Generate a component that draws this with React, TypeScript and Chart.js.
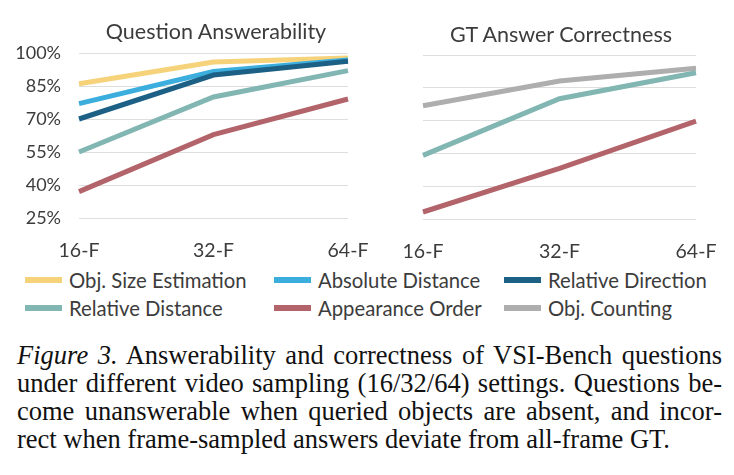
import React, { useEffect, useRef } from "react";
import { Chart, registerables } from "chart.js";

Chart.register(...registerables);

// ---------- data ----------
const categories = ["16-F", "32-F", "64-F"];
const yMin = 25;
const yMax = 100;
const yStep = 15;

// Question Answerability (%)
const answerObjSize = [86, 95.9, 97.7];
const answerAbsDist = [77, 91.6, 96.8];
const answerRelDir = [70, 90, 96.2];
const answerRelDist = [55, 80, 92];
const answerApprOrder = [37, 62.9, 79.1];

// GT Answer Correctness (%)
const correctObjCount = [76.8, 88.1, 93.9];
const correctRelDist = [54.1, 80, 91.9];
const correctApprOrder = [28.2, 48.2, 69.8];

const titleLeft = "Question Answerability";
const titleRight = "GT Answer Correctness";

const legendRow1 = ["Obj. Size Estimation", "Absolute Distance", "Relative Direction"];
const legendRow2 = ["Relative Distance", "Appearance Order", "Obj. Counting"];

const COLORS: Record<string, string> = {
  "Obj. Size Estimation": "#F6D37B",
  "Absolute Distance": "#3BAEDE",
  "Relative Direction": "#1C6086",
  "Relative Distance": "#82B6B2",
  "Appearance Order": "#B3646A",
  "Obj. Counting": "#AEAEAE",
};

const captionLines = [
  "Answerability and correctness of VSI-Bench questions",
  "under different video sampling (16/32/64) settings. Questions be-",
  "come unanswerable when queried objects are absent, and incor-",
  "rect when frame-sampled answers deviate from all-frame GT.",
];

const SANS = "Lato, 'Open Sans', sans-serif";
const TEXT = "#3c3c3c";

function mk(label: string, data: number[], order: number) {
  return {
    label,
    data,
    borderColor: COLORS[label],
    backgroundColor: COLORS[label],
    borderWidth: 5,
    pointRadius: 0,
    pointHoverRadius: 0,
    tension: 0,
    fill: false,
    order,
  };
}

type Geo = {
  width: number;
  height: number;
  left: number;
  top: number;
  right: number;
  bottom: number;
  showY: boolean;
};

function LineChart({ datasets, geo }: { datasets: any[]; geo: Geo }) {
  const ref = useRef<HTMLCanvasElement | null>(null);
  useEffect(() => {
    if (!ref.current) return;
    const chart = new Chart(ref.current, {
      type: "line",
      data: { labels: categories, datasets },
      options: {
        responsive: false,
        animation: false,
        devicePixelRatio: 1,
        layout: {
          padding: { left: 0, top: geo.top, right: geo.width - geo.right, bottom: 0 },
        },
        plugins: {
          legend: { display: false },
          tooltip: { enabled: false },
          title: { display: false },
        },
        scales: {
          x: {
            type: "category",
            offset: false,
            grid: { display: false, drawTicks: false },
            border: { display: false },
            ticks: {
              color: TEXT,
              font: { family: SANS, size: 19.5 },
              padding: 21,
              maxRotation: 0,
              autoSkip: false,
            },
            afterFit: (s: any) => {
              s.height = geo.height - geo.bottom;
              s.paddingLeft = 0;
              s.paddingRight = 0;
            },
          },
          y: {
            type: "linear",
            min: yMin,
            max: yMax,
            grid: { color: "#dedede", lineWidth: 1, drawTicks: false },
            border: { display: false },
            ticks: {
              display: geo.showY,
              stepSize: yStep,
              color: TEXT,
              font: { family: SANS, size: 18 },
              padding: 18,
              callback: (v: any) => v + "%",
            },
            afterFit: (s: any) => {
              s.width = geo.left;
              s.paddingTop = 0;
              s.paddingBottom = 0;
            },
          },
        },
      },
    } as any);
    return () => chart.destroy();
  }, []);
  return (
    <canvas
      ref={ref}
      width={geo.width}
      height={geo.height}
      style={{ width: geo.width, height: geo.height, display: "block" }}
    />
  );
}

export default function App() {
  const leftSets = [
    mk("Relative Direction", answerRelDir, 0),
    mk("Absolute Distance", answerAbsDist, 1),
    mk("Obj. Size Estimation", answerObjSize, 2),
    mk("Relative Distance", answerRelDist, 3),
    mk("Appearance Order", answerApprOrder, 4),
  ];
  const rightSets = [
    mk("Relative Distance", correctRelDist, 0),
    mk("Obj. Counting", correctObjCount, 1),
    mk("Appearance Order", correctApprOrder, 2),
  ];

  const legendCols = [25, 274, 504];
  const legendRows = [279.5, 307.5];

  return (
    <div
      style={{
        position: "absolute",
        left: 0,
        top: 0,
        width: 734,
        height: 475,
        background: "#ffffff",
        overflow: "hidden",
      }}
    >
      <div style={{ position: "absolute", left: 0, top: 0 }}>
        <LineChart
          datasets={leftSets}
          geo={{ width: 380, height: 265, left: 79, top: 53, right: 348, bottom: 218, showY: true }}
        />
      </div>
      <div style={{ position: "absolute", left: 380, top: 0 }}>
        <LineChart
          datasets={rightSets}
          geo={{ width: 354, height: 265, left: 43, top: 55, right: 316, bottom: 219, showY: false }}
        />
      </div>

      <div
        style={{
          position: "absolute",
          left: 216 - 150,
          width: 300,
          top: 20,
          textAlign: "center",
          fontFamily: SANS,
          fontSize: 21.5,
          lineHeight: "22px",
          color: TEXT,
        }}
      >
        {titleLeft}
      </div>
      <div
        style={{
          position: "absolute",
          left: 561 - 150,
          width: 300,
          top: 23,
          textAlign: "center",
          fontFamily: SANS,
          fontSize: 21.5,
          lineHeight: "22px",
          color: TEXT,
        }}
      >
        {titleRight}
      </div>

      {[legendRow1, legendRow2].map((row, ri) =>
        row.map((name, ci) => (
          <div key={name}>
            <div
              style={{
                position: "absolute",
                left: legendCols[ci],
                top: legendRows[ri] - 3,
                width: 37,
                height: 6,
                background: COLORS[name],
              }}
            />
            <div
              style={{
                position: "absolute",
                left: legendCols[ci] + 44,
                top: legendRows[ri] - 11,
                fontFamily: SANS,
                fontSize: 20.3,
                lineHeight: "22px",
                color: TEXT,
                whiteSpace: "nowrap",
              }}
            >
              {name}
            </div>
          </div>
        ))
      )}

      <div
        style={{
          position: "absolute",
          left: 17,
          top: 342,
          width: 705,
          fontFamily: "'Liberation Serif', 'Times New Roman', serif",
          fontSize: 26.5,
          lineHeight: "27.9px",
          color: "#111",
        }}
      >
        {captionLines.map((line, i) => (
          <div
            key={i}
            style={{
              whiteSpace: "nowrap",
              textAlign: i < 3 ? "justify" : "left",
              textAlignLast: i < 3 ? "justify" : "left",
            }}
          >
            {i === 0 ? (
              <>
                <i>Figure 3.</i> {line}
              </>
            ) : (
              line
            )}
          </div>
        ))}
      </div>
    </div>
  );
}
